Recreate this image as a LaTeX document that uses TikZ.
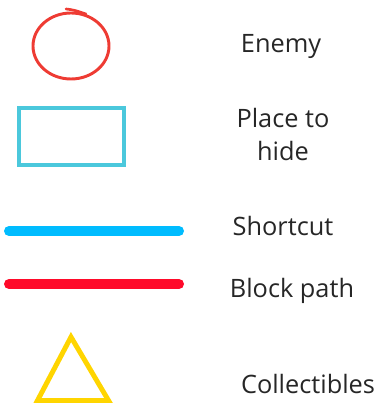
\documentclass[tikz,border=0pt]{standalone}
\usepackage{fontspec}
\setmainfont{Open Sans}
\usepackage{tikz}

\definecolor{enemyred}{HTML}{EE3B33}
\definecolor{hidecyan}{HTML}{4BC8DC}
\definecolor{shortblue}{HTML}{00BCFF}
\definecolor{blockred}{HTML}{FF0A2A}
\definecolor{collgold}{HTML}{FFD500}

\tikzset{
    legtext/.style={anchor=base, text=black!85, font=\fontsize{19}{25}\selectfont, inner sep=0pt},
    legline/.style={line width=7.5pt, line cap=round}
}

\begin{document}
\begin{tikzpicture}[x=0.75pt, y=-0.75pt]
    \useasboundingbox (0,0) rectangle (380,409);

    % 1. ENEMIC
    \draw[enemyred, line width=2.2pt] (71,46) ellipse [x radius=38, y radius=33];
    \draw[enemyred, line width=2pt, line cap=round] (66,9) .. controls (74,10) .. (86,14);
    \node[legtext] (enemy) at (281,53) {Enemy};

    % 2. AMAGATALL
    \draw[hidecyan, line width=2.6pt] (19,108) rectangle (124,165);
    \node[legtext, align=center] (hide) at (283,161) {Place to\\hide};

    % 3. DRECERA I CAMI TALLAT
    \draw[legline, shortblue] (9,231) -- (179,231);
    \node[legtext] (shortcut) at (283,235) {Shortcut};
    \draw[legline, blockred] (9,284) -- (179,284);
    \node[legtext] (block) at (292,297) {Block path};

    % 4. OBJECTES
    \draw[collgold, line width=3.7pt, line join=miter] (71,337) -- (108.5,400.5) -- (37.5,400.5) -- cycle;
    \node[legtext] (collect) at (308,393) {Collectibles};
\end{tikzpicture}
\end{document}
